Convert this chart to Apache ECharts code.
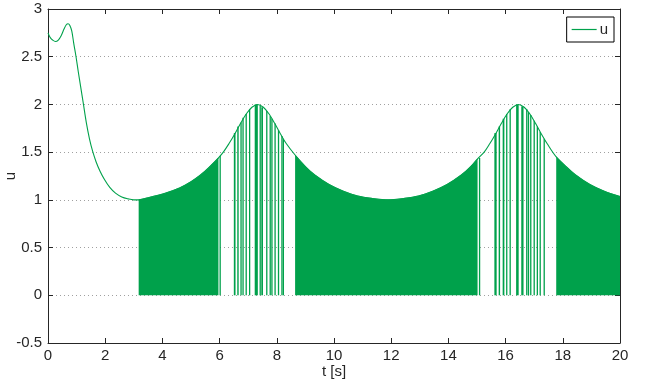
<!DOCTYPE html>
<html><head><meta charset="utf-8">
<script src="https://cdn.jsdelivr.net/npm/echarts@6/dist/echarts.min.js"></script>
<style>html,body{margin:0;padding:0;background:#fff}#c{width:648px;height:383px}</style>
</head><body><div id="c"></div><script>
// transient part of u(t)
const transientT = [0, 0.08, 0.16, 0.26, 0.36, 0.46, 0.56, 0.64, 0.70, 0.76, 0.83, 0.90, 0.98, 1.06, 1.14, 1.24, 1.34, 1.45, 1.56, 1.68, 1.82, 1.98, 2.16, 2.36, 2.58, 2.80, 3.00];
const transientU = [2.75, 2.70, 2.675, 2.66, 2.675, 2.72, 2.79, 2.835, 2.845, 2.83, 2.77, 2.64, 2.50, 2.34, 2.19, 2.00, 1.81, 1.64, 1.51, 1.40, 1.30, 1.21, 1.13, 1.07, 1.03, 1.01, 1.00];
// envelope (upper level of the switching signal)
const envT = [3.17, 3.6, 4.1, 4.6, 5.0, 5.33, 5.63, 5.96, 6.13, 6.33, 6.53, 6.73, 6.93, 7.13, 7.33, 7.53, 7.73, 7.93, 8.13, 8.33, 8.64, 9.03, 9.33, 9.83, 10.33, 10.83, 11.33, 11.89, 12.45, 12.95, 13.45, 13.95, 14.45, 14.75, 15.02, 15.25, 15.45, 15.65, 15.85, 16.05, 16.25, 16.45, 16.65, 16.85, 17.05, 17.25, 17.45, 17.77, 18.15, 18.45, 18.95, 19.45, 20.0];
const envU = [1.00, 1.03, 1.07, 1.125, 1.19, 1.26, 1.34, 1.44, 1.50, 1.59, 1.69, 1.80, 1.90, 1.97, 2.00, 1.97, 1.90, 1.80, 1.69, 1.59, 1.47, 1.34, 1.26, 1.16, 1.09, 1.04, 1.015, 1.00, 1.015, 1.04, 1.09, 1.16, 1.26, 1.34, 1.43, 1.50, 1.59, 1.69, 1.80, 1.90, 1.97, 2.00, 1.97, 1.90, 1.80, 1.69, 1.59, 1.45, 1.34, 1.26, 1.16, 1.09, 1.035];
// intervals of fast switching (rendered as solid)
const denseStart = [3.17, 8.64, 17.77];
const denseEnd = [5.96, 15.02, 20.0];
// isolated switching pulses
const pulseStart = [6.02, 6.52, 6.64, 6.75, 6.82, 6.93, 7.05, 7.25, 7.42, 7.48, 7.65, 7.77, 7.83, 7.94, 8.06, 8.18, 8.23,
                    15.09, 15.63, 15.78, 15.92, 16.04, 16.16, 16.39, 16.57, 16.74, 16.80, 16.88, 17.00, 17.11, 17.21, 17.35];
const pulseEnd   = [6.02, 6.58, 6.69, 6.75, 6.86, 6.93, 7.05, 7.36, 7.42, 7.54, 7.65, 7.77, 7.83, 7.94, 8.06, 8.18, 8.23,
                    15.09, 15.71, 15.83, 15.98, 16.04, 16.16, 16.48, 16.65, 16.74, 16.80, 16.88, 17.00, 17.11, 17.21, 17.35];
const pulseTop   = [1.46, 1.70, 1.77, 1.81, 1.86, 1.90, 1.95, 2.00, 1.99, 1.97, 1.93, 1.88, 1.85, 1.80, 1.73, 1.67, 1.64,
                    1.44, 1.70, 1.77, 1.85, 1.90, 1.95, 2.00, 1.98, 1.95, 1.92, 1.89, 1.83, 1.77, 1.71, 1.64];

const GREEN = '#00a14b';
const FONT = 'Liberation Sans, Arial, Helvetica, sans-serif';
const AX = '#262626';

const mainData = transientT.map((t, i) => [t, transientU[i]]).concat(envT.map((t, i) => [t, envU[i]]));

const series = [];
denseStart.forEach((a, k) => {
  const b = denseEnd[k];
  const d = [];
  envT.forEach((t, i) => { if (t >= a - 1e-9 && t <= b + 1e-9) d.push([t, envU[i]]); });
  series.push({
    type: 'line', data: d, smooth: 0.35, showSymbol: false, silent: true,
    lineStyle: { width: 0.8, color: GREEN }, areaStyle: { color: GREEN, opacity: 1, origin: 0 },
    itemStyle: { color: GREEN }, z: 2
  });
});
series.push({
  type: 'custom', silent: true, z: 3,
  data: pulseStart.map((s, i) => [s, pulseEnd[i], pulseTop[i]]),
  renderItem: function (params, api) {
    const p0 = api.coord([api.value(0), 0]);
    const p1 = api.coord([api.value(1), api.value(2)]);
    const w = Math.max(1.3, p1[0] - p0[0]);
    return { type: 'rect', shape: { x: p0[0] - 0.65, y: p1[1], width: w, height: p0[1] - p1[1] },
             style: { fill: GREEN } };
  }
});
series.push({
  name: 'u', type: 'line', data: mainData, smooth: 0.35, showSymbol: false,
  lineStyle: { width: 1.1, color: GREEN }, itemStyle: { color: GREEN }, z: 4
});

const chart = echarts.init(document.getElementById('c'), null, { renderer: 'canvas' });
chart.setOption({
  animation: false,
  backgroundColor: '#fff',
  textStyle: { fontFamily: FONT },
  grid: { left: 48, right: 28, top: 9, bottom: 40, containLabel: false, outerBoundsMode: 'none' },
  legend: {
    data: [{ name: 'u', icon: 'rect' }],
    right: 34, top: 17, orient: 'vertical',
    itemWidth: 25, itemHeight: 1.2, itemGap: 3,
    padding: [5, 6, 5, 5], borderColor: '#000', borderWidth: 1, backgroundColor: '#fff',
    textStyle: { fontFamily: FONT, fontSize: 15, color: AX, padding: [0, 0, 0, -2] }
  },
  xAxis: [{
    type: 'value', min: 0, max: 20, interval: 2,
    name: 't [s]', nameLocation: 'middle', nameGap: 21, nameMoveOverlap: false,
    nameTextStyle: { fontFamily: FONT, fontSize: 15, color: AX },
    axisLine: { show: true, onZero: false, lineStyle: { color: AX, width: 1 } },
    axisTick: { show: true, inside: true, length: 5, lineStyle: { color: AX } },
    axisLabel: { fontFamily: FONT, fontSize: 15, color: AX, margin: 5 },
    splitLine: { show: false }
  }, {
    type: 'value', min: 0, max: 20, interval: 2, position: 'top',
    axisLine: { show: true, onZero: false, lineStyle: { color: AX, width: 1 } },
    axisTick: { show: true, inside: true, length: 5, lineStyle: { color: AX } },
    axisLabel: { show: false }, splitLine: { show: false }
  }],
  yAxis: [{
    type: 'value', min: -0.5, max: 3, interval: 0.5,
    name: 'u', nameLocation: 'middle', nameGap: 30, nameMoveOverlap: false,
    nameTextStyle: { fontFamily: FONT, fontSize: 15, color: AX },
    axisLine: { show: true, onZero: false, lineStyle: { color: AX, width: 1 } },
    axisTick: { show: true, inside: true, length: 5, lineStyle: { color: AX } },
    axisLabel: { fontFamily: FONT, fontSize: 15, color: AX, margin: 6 },
    splitLine: { show: true, lineStyle: { color: '#a0a0a0', type: [1, 3], width: 1 } }
  }, {
    type: 'value', min: -0.5, max: 3, interval: 0.5, position: 'right',
    axisLine: { show: true, onZero: false, lineStyle: { color: AX, width: 1 } },
    axisTick: { show: true, inside: true, length: 5, lineStyle: { color: AX } },
    axisLabel: { show: false }, splitLine: { show: false }
  }],
  series: series
});
</script></body></html>
